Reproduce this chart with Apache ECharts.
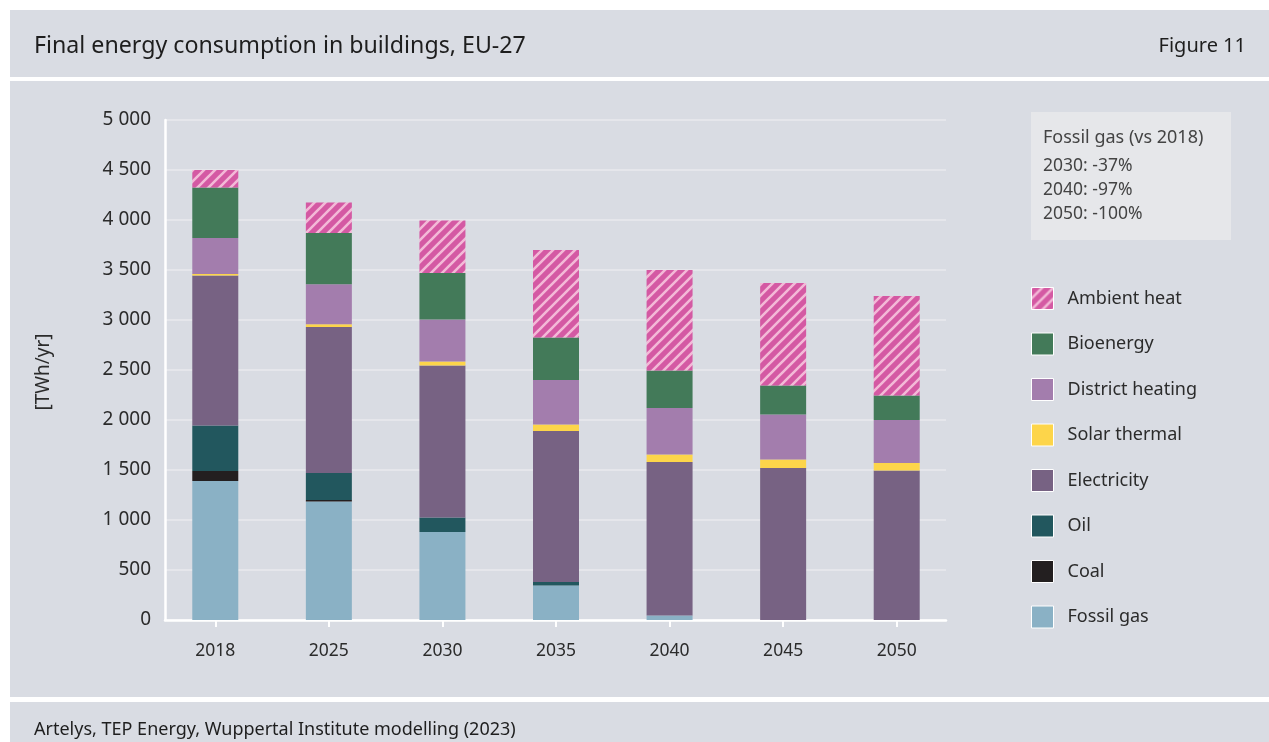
<!DOCTYPE html>
<html>
<head>
<meta charset="utf-8">
<script src="https://cdn.jsdelivr.net/npm/echarts@6/dist/echarts.min.js"></script>
<style>
  html, body { margin: 0; padding: 0; background: #ffffff; }
  #chart { width: 1269px; height: 742px; }
</style>
</head>
<body>
<div id="chart"></div>
<script>
// categories
var years = ['2018', '2025', '2030', '2035', '2040', '2045', '2050'];

// series values, TWh/yr
var fossilGas       = [1390, 1185, 880, 345, 45, 0, 0];
var coal            = [100, 15, 0, 0, 0, 0, 0];
var oil             = [455, 270, 145, 35, 0, 0, 0];
var electricity     = [1500, 1460, 1520, 1510, 1535, 1520, 1495];
var solarThermal    = [15, 27, 40, 65, 75, 85, 75];
var districtHeating = [360, 400, 420, 445, 465, 450, 430];
var bioenergy       = [505, 513, 465, 425, 375, 290, 245];
var ambientHeat     = [175, 305, 525, 875, 1005, 1025, 995];

// y ticks
var yTicks = [0, 500, 1000, 1500, 2000, 2500, 3000, 3500, 4000, 4500, 5000];

// note box
var noteYears = ['2030', '2040', '2050'];
var noteChanges = ['-37%', '-97%', '-100%'];

var FONT = 'Noto Sans';
var TXT = '#2b2b2b';

// hatched fill for ambient heat
function stripes() {
  var s = 11;
  var c = document.createElement('canvas');
  c.width = s; c.height = s;
  var ctx = c.getContext('2d');
  ctx.fillStyle = '#d459a3';
  ctx.fillRect(0, 0, s, s);
  ctx.strokeStyle = '#f3b9d7';
  ctx.lineWidth = 2.6;
  ctx.beginPath();
  ctx.moveTo(-s, s * 2); ctx.lineTo(s * 2, -s);
  ctx.moveTo(-s, s); ctx.lineTo(s, -s);
  ctx.moveTo(0, s * 2); ctx.lineTo(s * 2, 0);
  ctx.stroke();
  return c;
}

function fmt(v) {
  return String(v).replace(/\B(?=(\d{3})+(?!\d))/g, ' ');
}

var chart = echarts.init(document.getElementById('chart'));

function bar(name, data, color) {
  return {
    name: name,
    type: 'bar',
    stack: 'total',
    xAxisIndex: 1,
    yAxisIndex: 1,
    barWidth: 46,
    itemStyle: { color: color },
    emphasis: { disabled: true },
    data: data
  };
}

var series = [
  bar('Fossil gas', fossilGas, '#8ab1c5'),
  bar('Coal', coal, '#231f20'),
  bar('Oil', oil, '#22575e'),
  bar('Electricity', electricity, '#776283'),
  bar('Solar thermal', solarThermal, '#fdd54a'),
  bar('District heating', districtHeating, '#a37dad'),
  bar('Bioenergy', bioenergy, '#437a59'),
  bar('Ambient heat', ambientHeat, { image: stripes(), repeat: 'repeat' })
];

var noteLines = [];
for (var i = 0; i < noteYears.length; i++) {
  noteLines.push({
    type: 'text', x: 1043, y: 166 + i * 24, z: 100,
    style: { text: noteYears[i] + ': ' + noteChanges[i], fill: '#444', font: '17.5px "' + FONT + '"', verticalAlign: 'middle' }
  });
}

var option = {
  backgroundColor: '#ffffff',
  animation: false,
  textStyle: { fontFamily: FONT },
  graphic: [
    // panels
    { type: 'rect', z: -100, shape: { x: 10, y: 10, width: 1259, height: 67 }, style: { fill: '#d9dce3' } },
    { type: 'rect', z: -100, shape: { x: 10, y: 81, width: 1259, height: 616 }, style: { fill: '#d9dce3' } },
    { type: 'rect', z: -100, shape: { x: 10, y: 702, width: 1259, height: 40 }, style: { fill: '#d9dce3' } },
    // header / footer text
    { type: 'text', x: 34, y: 46, z: 100,
      style: { text: 'Final energy consumption in buildings, EU-27', fill: '#1e1e1e', font: '23.2px "' + FONT + '"', verticalAlign: 'middle' } },
    { type: 'text', x: 1246, y: 46, z: 100,
      style: { text: 'Figure 11', fill: '#1e1e1e', font: '20px "' + FONT + '"', align: 'right', verticalAlign: 'middle' } },
    { type: 'text', x: 34, y: 730, z: 100,
      style: { text: 'Artelys, TEP Energy, Wuppertal Institute modelling (2023)', fill: '#1e1e1e', font: '18px "' + FONT + '"', verticalAlign: 'middle' } },
    // y axis name
    { type: 'text', x: 44, y: 372, rotation: Math.PI / 2, z: 100,
      style: { text: '[TWh/yr]', fill: TXT, font: '19px "' + FONT + '"', align: 'center', verticalAlign: 'middle' } },
    // note box
    { type: 'rect', z: -50, shape: { x: 1031, y: 112, width: 200, height: 128 }, style: { fill: '#e6e7ea' } },
    { type: 'text', x: 1043, y: 138, z: 100,
      style: { text: 'Fossil gas (vs 2018)', fill: '#444', font: '18px "' + FONT + '"', verticalAlign: 'middle' } }
  ].concat(noteLines),
  legend: {
    orient: 'vertical',
    left: 1031,
    top: 287,
    padding: 0,
    itemWidth: 22,
    itemHeight: 22,
    itemGap: 22.5,
    icon: 'rect',
    selectedMode: false,
    itemStyle: { borderColor: '#ffffff', borderWidth: 1 },
    textStyle: { fontSize: 18, lineHeight: 22, color: TXT, fontFamily: FONT, padding: [0, 0, 0, 9] },
    data: ['Ambient heat', 'Bioenergy', 'District heating', 'Solar thermal', 'Electricity', 'Oil', 'Coal', 'Fossil gas']
  },
  grid: [
    // frame grid: axis lines and gridlines
    { left: 165, right: 323, top: 120, bottom: 122 },
    // bar grid: category bands
    { left: 158.5, right: 315.5, top: 120, bottom: 122 }
  ],
  xAxis: [
    {
      type: 'category', gridIndex: 0, data: years,
      axisLine: { lineStyle: { color: '#ffffff', width: 2.5 } },
      axisTick: { show: false },
      axisLabel: { show: false }
    },
    {
      type: 'category', gridIndex: 1, data: years,
      axisLine: { show: false },
      axisTick: { show: true, alignWithLabel: true, length: 7, lineStyle: { color: '#ffffff', width: 2 } },
      axisLabel: { fontSize: 17.5, color: TXT, margin: 22, fontFamily: FONT }
    }
  ],
  yAxis: [
    {
      type: 'value', gridIndex: 0, min: yTicks[0], max: yTicks[yTicks.length - 1], interval: yTicks[1] - yTicks[0],
      axisLine: { show: true, lineStyle: { color: '#ffffff', width: 2.5 } },
      axisTick: { show: false },
      splitLine: { lineStyle: { color: '#e5e6eb', width: 2 } },
      axisLabel: { fontSize: 19, color: TXT, margin: 14, fontFamily: FONT, formatter: fmt }
    },
    {
      type: 'value', gridIndex: 1, min: yTicks[0], max: yTicks[yTicks.length - 1], interval: yTicks[1] - yTicks[0],
      show: false
    }
  ],
  series: series
};

chart.setOption(option);
</script>
</body>
</html>
